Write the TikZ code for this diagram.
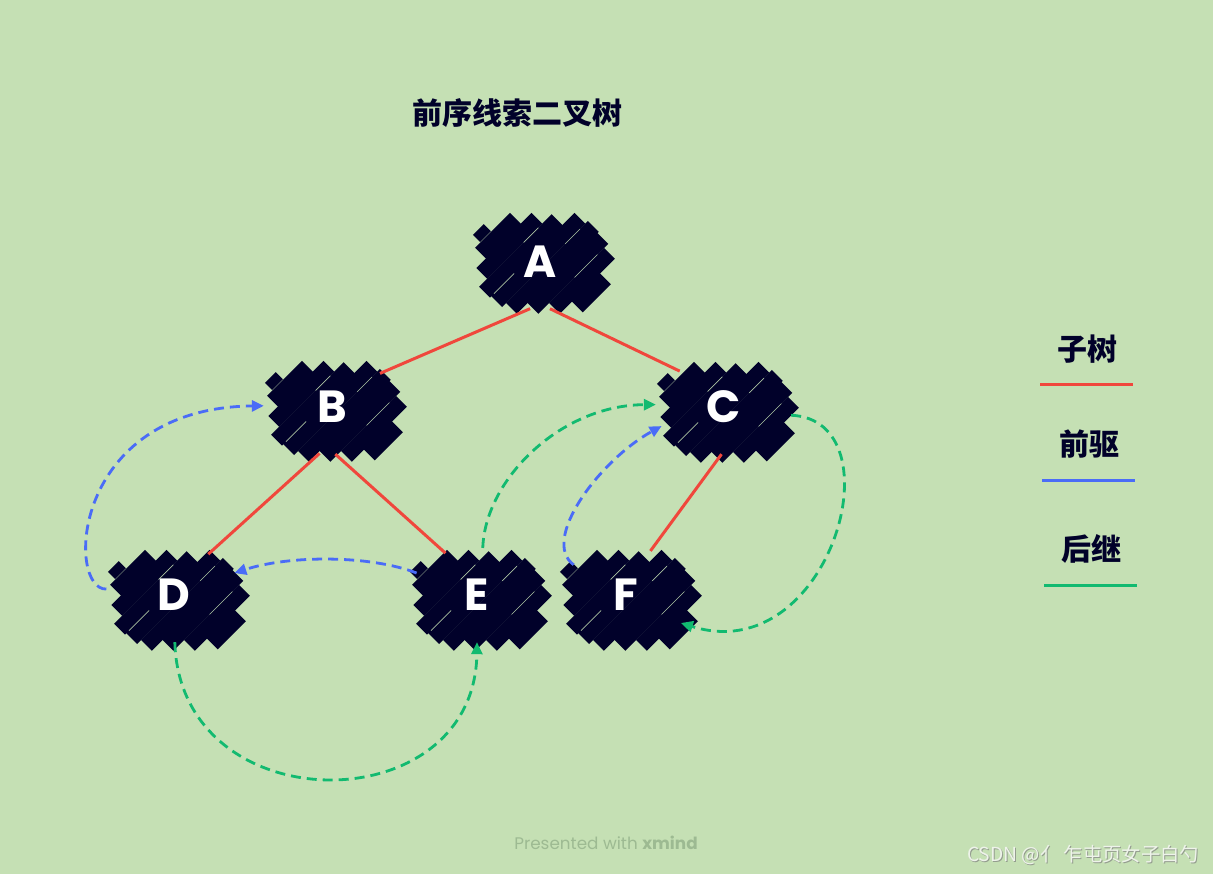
\documentclass[tikz,border=0pt]{standalone}
\usepackage{fontspec}
\newfontfamily\cjk{Noto Sans CJK SC}
\newfontfamily\pop{Poppins}
\usetikzlibrary{arrows.meta,shapes.geometric}
\definecolor{bg}{HTML}{C5E0B4}
\definecolor{navy}{HTML}{01012A}
\definecolor{tred}{HTML}{F0473C}
\definecolor{tblue}{HTML}{4A6CF7}
\definecolor{tgreen}{HTML}{12BA70}
\definecolor{pres}{HTML}{9DBA92}
\definecolor{wm}{HTML}{EEF3EA}
\tikzset{
  x=1pt, y=-1pt,
  tree/.style={draw=tred, line width=3pt},
  pred/.style={draw=tblue, line width=2.8pt, dash pattern=on 10pt off 6pt, -{Triangle[length=12pt,width=11pt]}},
  succ/.style={draw=tgreen, line width=2.8pt, dash pattern=on 10pt off 6pt, -{Triangle[length=12pt,width=11pt]}},
  vertex/.style={ellipse, minimum width=136pt, minimum height=94pt, inner sep=0pt, text=white, font=\pop\bfseries\fontsize{45}{45}\selectfont},
  heading/.style={text=navy, font=\cjk\bfseries\fontsize{30}{30}\selectfont, inner sep=0pt},
  blob/.pic={
    \begin{scope}[rotate=45, scale=0.95]
      \foreach \a/\b/\v in {-40/12/-56, -54/28/-40, -66/42/-24, -64/60/-8, -58/64/8, -42/62/24, -26/56/40, -8/34/56}
        \draw[navy, line width=15.5pt] (\a,\v) -- (\b,\v);
      \draw[navy, line width=10pt] (-32,-70) -- (-16,-70);
      \draw[bg, line width=0.7pt, opacity=0.85] (-60,-16) -- (-30,-16);
      \draw[bg, line width=0.7pt, opacity=0.85] (12,32) -- (46,32);
      \draw[bg, line width=0.7pt, opacity=0.85] (0,-32) -- (22,-32);
      \draw[bg, line width=0.7pt, opacity=0.85] (30,0) -- (52,0);
    \end{scope}
  }
}
\begin{document}
\begin{tikzpicture}
\fill[bg] (0,0) rectangle (1213,874);
\useasboundingbox (0,0) rectangle (1213,874);

% title
\node[heading] (title) at (517,113) {前序线索二叉树};

% blobs
\pic at (545,264) {blob};
\pic at (337,412) {blob};
\pic at (729,413) {blob};
\pic at (180,601) {blob};
\pic at (482,601) {blob};
\pic at (632,601) {blob};

% vertices
\node[vertex] (A) at (540,262) {A};
\node[vertex] (B) at (332,407) {B};
\node[vertex] (C) at (724,407) {C};
\node[vertex] (D) at (174,595) {D};
\node[vertex] (E) at (477,595) {E};
\node[vertex] (F) at (626,595) {F};

% tree edges
\draw[tree] (A.-102.5) -- (B.35);
\draw[tree] (A.-78) -- (C.141);
\draw[tree] (B.-105) -- (D.50);
\draw[tree] (B.-86) -- (E.127);
\draw[tree] (C.-93) -- (F.61);

% predecessor threads
\draw[pred] (D.175) .. controls (66,590) and (70,408) .. (B.179);
\draw[pred] (E.160) .. controls (370,555) and (290,555) .. (D.20);
\draw[pred] (F.150) .. controls (540,540) and (600,460) .. (C.-163);

% successor threads
\draw[succ] (D.-89) .. controls (180,824) and (475,824) .. (E.-90);
\draw[succ] (E.83) .. controls (485,480) and (560,405) .. (C.178);
\draw[succ] (C.-7) .. controls (900,420) and (830,670) .. (F.-27);

% legend
\node[heading] (L1) at (1087,349) {子树};
\coordinate (l1a) at (1040,385); \coordinate (l1b) at (1133,385);
\draw[tree] (l1a) -- (l1b);
\node[heading] (L2) at (1089,444) {前驱};
\coordinate (l2a) at (1042,480); \coordinate (l2b) at (1135,480);
\draw[draw=tblue, line width=3pt] (l2a) -- (l2b);
\node[heading] (L3) at (1091,549) {后继};
\coordinate (l3a) at (1044,585); \coordinate (l3b) at (1137,585);
\draw[draw=tgreen, line width=3pt] (l3a) -- (l3b);

% footer
\node[text=pres, font=\pop\fontsize{16.8}{16.8}\selectfont, inner sep=0pt] (pres) at (606,843) {Presented with \textbf{xmind}};
\node[text=gray!70!bg, font=\cjk\fontsize{19.3}{19.3}\selectfont, inner sep=0pt] (wms) at (1084,856) {CSDN @亻 乍屯页女子白勺};
\node[text=wm, font=\cjk\fontsize{19.3}{19.3}\selectfont, inner sep=0pt] (wmark) at (1083,855) {CSDN @亻 乍屯页女子白勺};
\end{tikzpicture}
\end{document}
